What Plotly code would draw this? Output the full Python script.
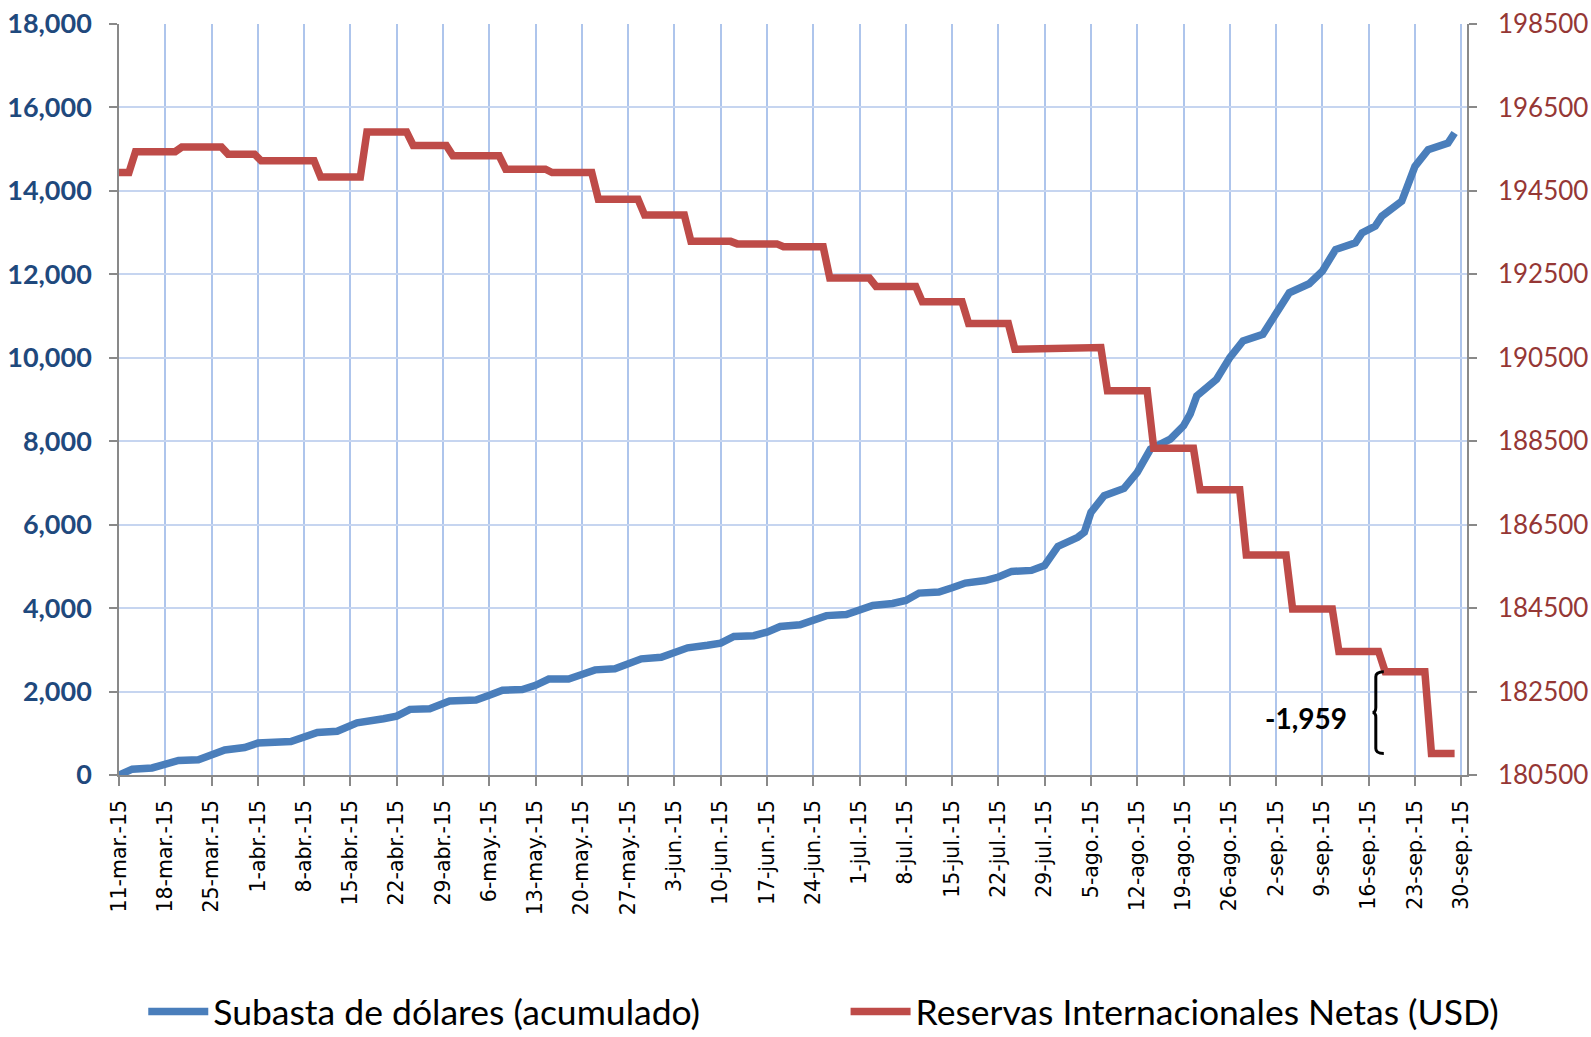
import plotly.graph_objects as go

# ---------------- data ----------------
tick_dates = ["2015-03-11", "2015-03-18", "2015-03-25", "2015-04-01", "2015-04-08",
              "2015-04-15", "2015-04-22", "2015-04-29", "2015-05-06", "2015-05-13",
              "2015-05-20", "2015-05-27", "2015-06-03", "2015-06-10", "2015-06-17",
              "2015-06-24", "2015-07-01", "2015-07-08", "2015-07-15", "2015-07-22",
              "2015-07-29", "2015-08-05", "2015-08-12", "2015-08-19", "2015-08-26",
              "2015-09-02", "2015-09-09", "2015-09-16", "2015-09-23", "2015-09-30"]
tick_labels = ["11-mar.-15", "18-mar.-15", "25-mar.-15", "1-abr.-15", "8-abr.-15",
               "15-abr.-15", "22-abr.-15", "29-abr.-15", "6-may.-15", "13-may.-15",
               "20-may.-15", "27-may.-15", "3-jun.-15", "10-jun.-15", "17-jun.-15",
               "24-jun.-15", "1-jul.-15", "8-jul.-15", "15-jul.-15", "22-jul.-15",
               "29-jul.-15", "5-ago.-15", "12-ago.-15", "19-ago.-15", "26-ago.-15",
               "2-sep.-15", "9-sep.-15", "16-sep.-15", "23-sep.-15", "30-sep.-15"]

blue_name = "Subasta de dólares (acumulado)"
blue_dates = ["2015-03-11", "2015-03-13", "2015-03-16", "2015-03-18", "2015-03-20",
              "2015-03-23", "2015-03-25", "2015-03-27", "2015-03-30", "2015-04-01",
              "2015-04-06", "2015-04-08", "2015-04-10", "2015-04-13", "2015-04-16",
              "2015-04-20", "2015-04-22", "2015-04-24", "2015-04-27", "2015-04-30",
              "2015-05-04", "2015-05-06", "2015-05-08", "2015-05-11", "2015-05-13",
              "2015-05-15", "2015-05-18", "2015-05-20", "2015-05-22", "2015-05-25",
              "2015-05-27", "2015-05-29", "2015-06-01", "2015-06-03", "2015-06-05",
              "2015-06-08", "2015-06-10", "2015-06-12", "2015-06-15", "2015-06-17",
              "2015-06-19", "2015-06-22", "2015-06-24", "2015-06-26", "2015-06-29",
              "2015-07-01", "2015-07-03", "2015-07-06", "2015-07-08", "2015-07-10",
              "2015-07-13", "2015-07-15", "2015-07-17", "2015-07-20", "2015-07-22",
              "2015-07-24", "2015-07-27", "2015-07-29", "2015-07-31", "2015-08-03",
              "2015-08-04", "2015-08-05", "2015-08-07", "2015-08-10", "2015-08-12",
              "2015-08-14", "2015-08-17", "2015-08-19", "2015-08-20", "2015-08-21",
              "2015-08-24", "2015-08-26", "2015-08-28", "2015-08-31", "2015-09-02",
              "2015-09-04", "2015-09-07", "2015-09-09", "2015-09-11", "2015-09-14",
              "2015-09-15", "2015-09-17", "2015-09-18", "2015-09-21", "2015-09-23",
              "2015-09-25", "2015-09-28", "2015-09-29"]
blue_values = [0, 140, 170, 240, 350,
               365, 500, 600, 660, 765,
               800, 910, 1020, 1050, 1250,
               1347, 1411, 1573, 1589, 1774,
               1798, 1911, 2032, 2050, 2150,
               2298, 2300, 2408, 2520, 2544,
               2648, 2784, 2824, 2920, 3048,
               3110, 3160, 3320, 3340, 3424,
               3560, 3600, 3688, 3820, 3845,
               3944, 4064, 4110, 4184, 4360,
               4384, 4488, 4600, 4660, 4744,
               4880, 4904, 5024, 5480, 5697,
               5817, 6295, 6694, 6869, 7252,
               7810, 8050, 8369, 8648, 9086,
               9485, 10003, 10402, 10562, 11040,
               11559, 11774, 12077, 12595, 12755,
               12994, 13154, 13393, 13752, 14589,
               14988, 15147, 15387]

red_name = "Reservas Internacionales Netas (USD)"
red_dates = ["2015-03-11", "2015-03-12 12:00", "2015-03-13 12:00", "2015-03-19 12:00",
             "2015-03-20 12:00", "2015-03-26 12:00", "2015-03-27 12:00", "2015-03-31 12:00",
             "2015-04-01 12:00", "2015-04-09 12:00", "2015-04-10 12:00", "2015-04-16 12:00",
             "2015-04-17 12:00", "2015-04-23 12:00", "2015-04-24 12:00", "2015-04-29 12:00",
             "2015-04-30 12:00", "2015-05-07 12:00", "2015-05-08 12:00", "2015-05-14 12:00",
             "2015-05-15 12:00", "2015-05-21 12:00", "2015-05-22 12:00", "2015-05-28 12:00",
             "2015-05-29 12:00", "2015-06-04 12:00", "2015-06-05 12:00", "2015-06-11 12:00",
             "2015-06-12 12:00", "2015-06-18 12:00", "2015-06-19 12:00", "2015-06-25 12:00",
             "2015-06-26 12:00", "2015-07-02 12:00", "2015-07-03 12:00", "2015-07-09 12:00",
             "2015-07-10 12:00", "2015-07-16 12:00", "2015-07-17 12:00", "2015-07-23 12:00",
             "2015-07-24 12:00", "2015-07-30 12:00", "2015-07-31 12:00", "2015-08-06 12:00",
             "2015-08-07 12:00", "2015-08-13 12:00", "2015-08-14 12:00", "2015-08-20 12:00",
             "2015-08-21 12:00", "2015-08-27 12:00", "2015-08-28 12:00", "2015-09-03 12:00",
             "2015-09-04 12:00", "2015-09-10 12:00", "2015-09-11 12:00", "2015-09-17 12:00",
             "2015-09-18 12:00", "2015-09-24 12:00", "2015-09-25 12:00", "2015-09-29"]
red_values = [194940, 194940, 195440, 195440,
              195550, 195550, 195380, 195380,
              195220, 195220, 194830, 194830,
              195910, 195910, 195590, 195590,
              195340, 195340, 195020, 195020,
              194940, 194940, 194300, 194300,
              193920, 193920, 193290, 193290,
              193230, 193230, 193160, 193160,
              192410, 192410, 192210, 192210,
              191840, 191840, 191320, 191320,
              190705, 190705, 190745, 190745,
              189710, 189710, 188330, 188330,
              187335, 187335, 185770, 185770,
              184476, 184476, 183463, 183463,
              182975, 182975, 181016, 181016]

diff_label = "-1,959"
diff_top = 182975
diff_bottom = 181016

# ---------------- style ----------------
BLUE = "#4A7EBB"
RED = "#BE4B48"
LEFT_COL = "#1F497D"
RIGHT_COL = "#953735"
AXIS_COL = "#898989"

fig = go.Figure()
fig.add_trace(go.Scatter(x=blue_dates, y=blue_values, name=blue_name, mode="lines",
                         line=dict(color=BLUE, width=7.5), yaxis="y", legend="legend"))
fig.add_trace(go.Scatter(x=red_dates, y=red_values, name=red_name, mode="lines",
                         line=dict(color=RED, width=7.5), yaxis="y2", legend="legend2"))

# brace annotation spanning the last drop
ds = 120
mid = (diff_top + diff_bottom) / 2
brace = (f"M 2015-09-18_07:00,{diff_top} "
         f"Q 2015-09-17_02:00,{diff_top} 2015-09-17_02:00,{diff_top - ds} "
         f"L 2015-09-17_02:00,{mid + ds} "
         f"Q 2015-09-17_02:00,{mid} 2015-09-16_14:00,{mid} "
         f"Q 2015-09-17_02:00,{mid} 2015-09-17_02:00,{mid - ds} "
         f"L 2015-09-17_02:00,{diff_bottom + ds} "
         f"Q 2015-09-17_02:00,{diff_bottom} 2015-09-18_07:00,{diff_bottom}")
fig.add_shape(type="path", path=brace, xref="x", yref="y2",
              line=dict(color="black", width=3))

fig.add_annotation(x="2015-09-16", y=mid, xref="x", yref="y2",
                   text=diff_label, showarrow=False, xanchor="right", yanchor="middle",
                   xshift=-20, yshift=-5,
                   font=dict(family="Lato", size=28, color="black", weight="bold"))

fig.update_layout(
    width=1591, height=1037,
    margin=dict(l=119, r=124, t=24, b=262, autoexpand=False),
    paper_bgcolor="white", plot_bgcolor="white",
    showlegend=True,
    xaxis=dict(
        type="date",
        range=["2015-03-11", "2015-09-30 21:00"],
        tickmode="array", tickvals=tick_dates, ticktext=tick_labels,
        tickangle=-90,
        tickfont=dict(family="DejaVu Sans", size=20.5, color="black"),
        ticks="outside", ticklen=9, tickwidth=1.5, tickcolor=AXIS_COL,
        showline=True, linecolor=AXIS_COL, linewidth=1.5,
        showgrid=True, gridcolor="#AEC5EC", gridwidth=2,
        zeroline=False, automargin=False, ticklabelstandoff=6,
    ),
    yaxis=dict(
        range=[0, 18000], dtick=2000, tick0=0, tickformat=",d",
        tickfont=dict(family="Lato", size=27, color=LEFT_COL, weight="bold"),
        ticks="outside", ticklen=8, tickwidth=1.5, tickcolor=AXIS_COL,
        showline=True, linecolor=AXIS_COL, linewidth=1.5,
        showgrid=True, gridcolor="#C6D5F0", gridwidth=2,
        zeroline=False, ticklabelstandoff=12, automargin=False,
    ),
    yaxis2=dict(
        range=[180500, 198500], dtick=2000, tick0=180500, tickformat="d",
        overlaying="y", side="right",
        tickfont=dict(family="Lato", size=26, color=RIGHT_COL),
        ticks="outside", ticklen=8, tickwidth=1.5, tickcolor=AXIS_COL,
        showline=True, linecolor=AXIS_COL, linewidth=1.5,
        showgrid=False, zeroline=False, ticklabelstandoff=16, automargin=False,
    ),
    legend=dict(orientation="h", x=0.018, y=-0.3156, xanchor="left", yanchor="middle",
                font=dict(family="Lato", size=35.5, color="black"),
                bgcolor="rgba(0,0,0,0)", itemwidth=60, borderwidth=0),
    legend2=dict(orientation="h", x=0.539, y=-0.3156, xanchor="left", yanchor="middle",
                 font=dict(family="Lato", size=35.5, color="black"),
                 bgcolor="rgba(0,0,0,0)", itemwidth=60, borderwidth=0),
)

fig.write_html("out.html", config={"displayModeBar": False},
               post_script="document.body.style.margin='0';document.body.style.overflow='hidden';")
